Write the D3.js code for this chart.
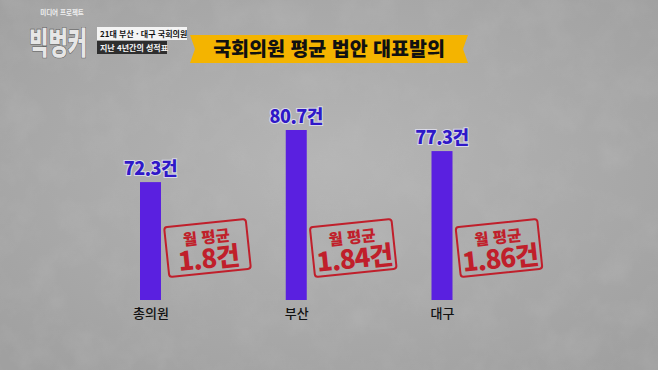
<!DOCTYPE html>
<html lang="ko">
<head>
<meta charset="utf-8">
<title>국회의원 평균 법안 대표발의</title>
<script src="https://cdn.jsdelivr.net/npm/d3@7"></script>
<style>
    html, body { margin: 0; padding: 0; background: #a8a8a8; }
    svg { display: block; font-family: "Noto Sans CJK KR", "Noto Sans", sans-serif; }
</style>
</head>
<body>
<div id="chart"></div>
<script>
// Chart data
const categories   = ["총의원", "부산", "대구"];
const billCounts   = [72.3, 80.7, 77.3];
const monthlyAvg   = [1.8, 1.84, 1.86];
const chartTitle   = "국회의원 평균 법안 대표발의";
const badgeLines   = ["21대 부산 · 대구 국회의원", "지난 4년간의 성적표"];

const width  = 658;
const height = 370;

const colors = {
    bar        : "#5a20e0",
    value      : "#2f18c8",
    stamp      : "#c01f2b",
    ribbon     : "#f4b400",
    text       : "#111111"
};

let svg = d3.select("#chart")
    .append("svg")
    .attr("width", width)
    .attr("height", height);

/**
 * Concrete like background with a noise overlay.
 */
function drawBackground()
{
    let defs = svg.append("defs");

    let noise = defs.append("filter")
        .attr("id", "noise")
        .attr("x", 0).attr("y", 0)
        .attr("width", "100%").attr("height", "100%");

    noise.append("feTurbulence")
        .attr("type", "fractalNoise")
        .attr("baseFrequency", 0.03)
        .attr("numOctaves", 4)
        .attr("seed", 7);

    noise.append("feColorMatrix")
        .attr("type", "matrix")
        .attr("values", "0 0 0 0 0.5  0 0 0 0 0.5  0 0 0 0 0.5  0.9 0.9 0.9 0 -1.2");

    let shade = defs.append("radialGradient")
        .attr("id", "shade")
        .attr("cx", "50%").attr("cy", "45%").attr("r", "70%");

    shade.append("stop").attr("offset", "0%").attr("stop-color", "#b6b6b6");
    shade.append("stop").attr("offset", "100%").attr("stop-color", "#a0a0a0");

    svg.append("rect")
        .attr("width", width)
        .attr("height", height)
        .attr("fill", "url(#shade)");

    svg.append("rect")
        .attr("width", width)
        .attr("height", height)
        .attr("filter", "url(#noise)")
        .attr("opacity", 0.35);
}

/**
 * Programme logo and the two caption badges top left.
 */
function drawLogo()
{
    let logo = svg.append("g")
        .attr("class", "logo");

    logo.append("text")
        .attr("x", 62)
        .attr("y", 15)
        .attr("text-anchor", "middle")
        .attr("font-size", 6.5)
        .attr("font-weight", 700)
        .attr("fill", "#f0f0f0")
        .text("미디어 프로젝트");

    // Squeezed horizontally, the logo letters are narrow
    logo.append("text")
        .attr("transform", "translate(29, 54) scale(0.68, 1)")
        .attr("font-size", 31)
        .attr("font-weight", 900)
        .attr("fill", "#e6e6e6")
        .attr("stroke", "#5a5a5a")
        .attr("stroke-width", 1.2)
        .attr("paint-order", "stroke")
        .text("빅벙커");

    let boxes = logo.selectAll("g.badge")
        .data(badgeLines)
        .join("g")
        .attr("class", "badge")
        .attr("transform", (d, i) => `translate(97, ${27 + i * 14})`);

    boxes.append("rect")
        .attr("width", (d, i) => i === 0 ? 90 : 70)
        .attr("height", 13)
        .attr("fill", (d, i) => i === 0 ? "#f4f4f4" : "#2e2e2e");

    boxes.append("text")
        .attr("x", 3)
        .attr("y", 10)
        .attr("font-size", 8)
        .attr("font-weight", 700)
        .attr("fill", (d, i) => i === 0 ? "#111" : "#f4f4f4")
        .text(d => d);
}

/**
 * Yellow ribbon holding the chart title.
 */
function drawTitle()
{
    let x0 = 190, x1 = 468, y0 = 35, y1 = 63, notch = 5;

    svg.append("path")
        .attr("d", d3.line()([
            [x0, y0], [x1, y0], [x1 - notch, (y0 + y1) / 2], [x1, y1],
            [x0, y1], [x0 + notch, (y0 + y1) / 2]
        ]) + "Z")
        .attr("fill", colors.ribbon);

    svg.append("text")
        .attr("x", (x0 + x1) / 2)
        .attr("y", 56)
        .attr("text-anchor", "middle")
        .attr("font-size", 19.5)
        .attr("font-weight", 900)
        .attr("fill", colors.text)
        .text(chartTitle);
}

drawBackground();
drawLogo();
drawTitle();

// Scales (the picture uses a cut off value axis)
let x = d3.scalePoint()
    .domain(categories)
    .range([150.5, 442]);

let y = d3.scaleLinear()
    .domain([53.3, 80.7])
    .range([300, 130]);

let barWidth = 21;

let rows = categories.map((c, i) => ({ name: c, value: billCounts[i], monthly: monthlyAvg[i] }));

let bars = svg.append("g")
    .attr("class", "bars")
    .selectAll("g")
    .data(rows)
    .join("g");

bars.append("rect")
    .attr("x", d => x(d.name) - barWidth / 2)
    .attr("y", d => y(d.value))
    .attr("width", barWidth)
    .attr("height", d => y.range()[0] - y(d.value))
    .attr("fill", colors.bar);

// Value labels
bars.append("text")
    .attr("x", d => x(d.name))
    .attr("y", d => y(d.value) - 7)
    .attr("text-anchor", "middle")
    .attr("font-size", 18)
    .attr("font-weight", 900)
    .attr("letter-spacing", -0.5)
    .attr("fill", colors.value)
    .attr("stroke", "rgba(235,235,255,0.7)")
    .attr("stroke-width", 2)
    .attr("paint-order", "stroke")
    .text(d => d.value + "건");

// Category labels (no axis line in the picture)
let xAxis = svg.append("g")
    .attr("transform", `translate(0, ${y.range()[0]})`)
    .call(d3.axisBottom(x).tickSize(0).tickPadding(0));

xAxis.select(".domain").remove();

xAxis.selectAll("text")
    .attr("dy", null)
    .attr("y", 18)
    .attr("font-family", "\"Noto Sans CJK KR\", sans-serif")
    .attr("font-size", 13)
    .attr("font-weight", 500)
    .attr("fill", colors.text);

// Red "monthly average" stamps
let stamps = bars.append("g")
    .attr("class", "stamp")
    .attr("transform", d => `translate(${x(d.name) + 57}, 248) rotate(-6)`);

stamps.append("rect")
    .attr("x", -41)
    .attr("y", -25)
    .attr("width", 82)
    .attr("height", 50)
    .attr("rx", 3)
    .attr("fill", "none")
    .attr("stroke", colors.stamp)
    .attr("stroke-width", 2);

stamps.append("text")
    .attr("y", -5)
    .attr("text-anchor", "middle")
    .attr("font-size", 15.5)
    .attr("font-weight", 900)
    .attr("fill", colors.stamp)
    .text("월 평균");

stamps.append("text")
    .attr("y", 20)
    .attr("text-anchor", "middle")
    .attr("font-size", 26)
    .attr("font-weight", 900)
    .attr("letter-spacing", -1)
    .attr("fill", colors.stamp)
    .text(d => d.monthly + "건");
</script>
</body>
</html>
